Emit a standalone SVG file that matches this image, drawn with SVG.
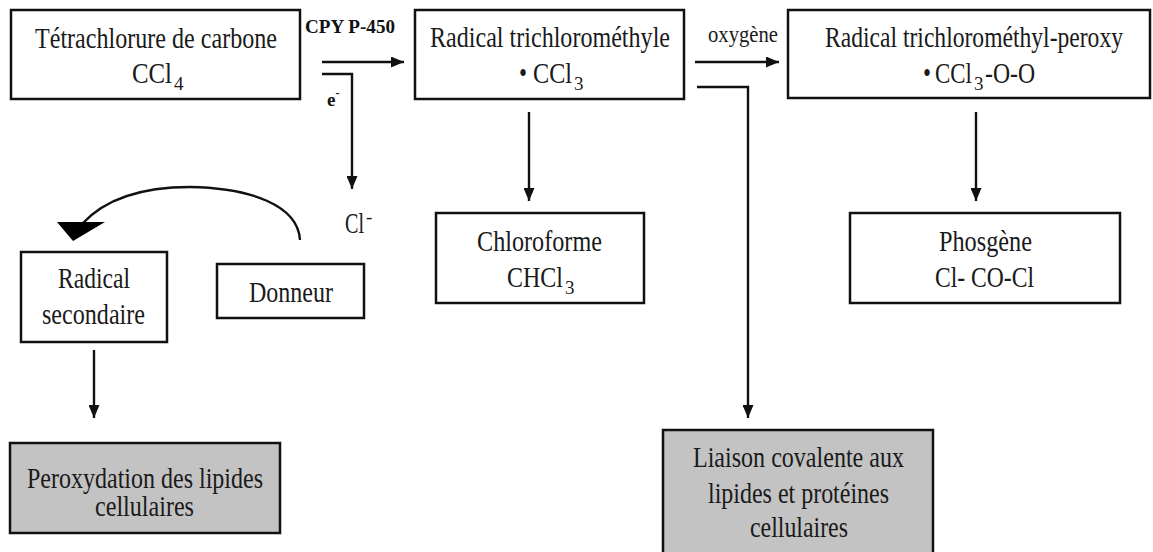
<svg xmlns="http://www.w3.org/2000/svg" width="1153" height="552" viewBox="0 0 1153 552">
<defs>
<style>
.box{fill:#fff;stroke:#111;stroke-width:2.5}
.gbox{fill:#c3c3c3;stroke:#111;stroke-width:2.5}
.t{font-family:"Liberation Serif","Times New Roman",serif;font-size:29px;fill:#1a1a1a}
.s{font-family:"Liberation Serif","Times New Roman",serif;font-size:19px;fill:#1a1a1a}
.lb{font-family:"Liberation Serif","Times New Roman",serif;font-size:19px;font-weight:bold;fill:#111}
.lbl{font-family:"Liberation Serif","Times New Roman",serif;font-size:23px;fill:#1a1a1a}
.c{fill:none;stroke:#111;stroke-width:2.4}
</style>
<marker id="ah" viewBox="0 0 13 11" refX="13" refY="5.5" markerWidth="13" markerHeight="11" markerUnits="userSpaceOnUse" orient="auto">
<path d="M0,0 L13,5.5 L0,11 Z" fill="#111"/>
</marker>
</defs>
<rect width="1153" height="552" fill="#fff"/>

<g id="n-ccl4">
<rect class="box" x="11" y="10" width="289" height="89"/>
<text class="t" x="35" y="48" textLength="242" lengthAdjust="spacingAndGlyphs">Tétrachlorure de carbone</text>
<text class="t" x="132" y="83" textLength="40" lengthAdjust="spacingAndGlyphs">CCl</text>
<text class="s" x="174" y="90">4</text>
</g>

<g id="n-ccl3">
<rect class="box" x="415" y="10" width="269" height="89"/>
<text class="t" x="430" y="47" textLength="240" lengthAdjust="spacingAndGlyphs">Radical trichlorométhyle</text>
<text class="t" x="519" y="83" textLength="8" lengthAdjust="spacingAndGlyphs">•</text>
<text class="t" x="533" y="83" textLength="39" lengthAdjust="spacingAndGlyphs">CCl</text>
<text class="s" x="574" y="90">3</text>
</g>

<g id="n-peroxy">
<rect class="box" x="788" y="10" width="362" height="88"/>
<text class="t" x="825" y="47" textLength="298" lengthAdjust="spacingAndGlyphs">Radical trichlorométhyl-peroxy</text>
<text class="t" x="923" y="83" textLength="8" lengthAdjust="spacingAndGlyphs">•</text>
<text class="t" x="935" y="83" textLength="37" lengthAdjust="spacingAndGlyphs">CCl</text>
<text class="s" x="974" y="90">3</text>
<text class="t" x="985" y="83" textLength="50" lengthAdjust="spacingAndGlyphs">-O-O</text>
</g>

<g id="n-chloroforme">
<rect class="box" x="436" y="213" width="208" height="90"/>
<text class="t" x="477" y="251" textLength="125" lengthAdjust="spacingAndGlyphs">Chloroforme</text>
<text class="t" x="507" y="287" textLength="56" lengthAdjust="spacingAndGlyphs">CHCl</text>
<text class="s" x="565" y="294">3</text>
</g>

<g id="n-phosgene">
<rect class="box" x="850" y="213" width="270" height="90"/>
<text class="t" x="939" y="251" textLength="93" lengthAdjust="spacingAndGlyphs">Phosgène</text>
<text class="t" x="935" y="287" textLength="99" lengthAdjust="spacingAndGlyphs">Cl- CO-Cl</text>
</g>

<g id="n-radical-secondaire">
<rect class="box" x="21" y="252" width="146" height="90"/>
<text class="t" x="58" y="288" textLength="72" lengthAdjust="spacingAndGlyphs">Radical</text>
<text class="t" x="42" y="324" textLength="103" lengthAdjust="spacingAndGlyphs">secondaire</text>
</g>

<g id="n-donneur">
<rect class="box" x="217" y="264" width="147" height="54"/>
<text class="t" x="249" y="302" textLength="84" lengthAdjust="spacingAndGlyphs">Donneur</text>
</g>

<g id="n-peroxydation">
<rect class="gbox" x="10" y="443" width="270" height="90"/>
<text class="t" x="27" y="488" textLength="236" lengthAdjust="spacingAndGlyphs">Peroxydation des lipides</text>
<text class="t" x="95" y="516" textLength="99" lengthAdjust="spacingAndGlyphs">cellulaires</text>
</g>

<g id="n-liaison">
<rect class="gbox" x="663" y="430" width="270" height="130"/>
<text class="t" x="693" y="467" textLength="211" lengthAdjust="spacingAndGlyphs">Liaison covalente aux</text>
<text class="t" x="708" y="503" textLength="181" lengthAdjust="spacingAndGlyphs">lipides et protéines</text>
<text class="t" x="750" y="537" textLength="98" lengthAdjust="spacingAndGlyphs">cellulaires</text>
</g>

<g id="connectors">
<path class="c" d="M322,62 L404,62" marker-end="url(#ah)"/>
<path class="c" d="M322,74 L352,74 L352,189" marker-end="url(#ah)"/>
<path class="c" d="M695,62 L779,62" marker-end="url(#ah)"/>
<path class="c" d="M697,87 L748,87 L748,418" marker-end="url(#ah)"/>
<path class="c" d="M529,112 L529,201" marker-end="url(#ah)"/>
<path class="c" d="M976,112 L976,201" marker-end="url(#ah)"/>
<path class="c" d="M94,350 L94,418" marker-end="url(#ah)"/>
<path class="c" d="M300,240 C298,205 250,188 190,187 C140,187 104,200 82,224" stroke-width="2.8"/>
<path d="M57,222 L105,222 L73,241 Z" fill="#000"/>
<text class="lb" x="305" y="33" textLength="90" lengthAdjust="spacingAndGlyphs">CPY P-450</text>
<text class="lb" x="327" y="106">e<tspan font-size="12" dy="-9">-</tspan></text>
<text class="lbl" x="708" y="42" textLength="70" lengthAdjust="spacingAndGlyphs">oxygène</text>
<text class="t" x="345" y="233" textLength="19" lengthAdjust="spacingAndGlyphs">Cl</text>
<text class="s" x="366" y="223">-</text>
</g>
</svg>
